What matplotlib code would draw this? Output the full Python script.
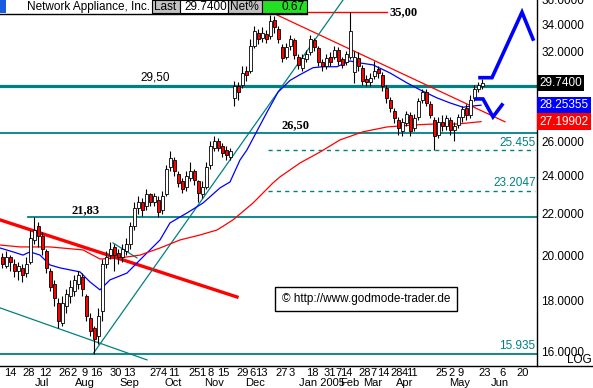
import numpy as np
import matplotlib
matplotlib.use('Agg')
import matplotlib.pyplot as plt
from matplotlib.patches import Rectangle
from matplotlib.lines import Line2D
from matplotlib.ticker import NullLocator

plt.rcParams['font.family'] = ['Liberation Sans', 'DejaVu Sans']
plt.rcParams['font.size'] = 8.5

# candles, one every two trading days (Jun 2004 - May 2005)
opens = [19.9, 19.5, 19.9, 19.6, 19.3, 19.4, 19.2, 19.7, 20.7, 21.4,
         20.9, 20.2, 19.3, 18.7, 17.9, 17.1, 17.8, 18.2, 18.4, 18.7,
         19.0, 18.2, 17.3, 16.9, 16.6, 17.6, 19.6, 20.0, 20.4, 20.1,
         19.9, 20.2, 20.5, 21.4, 22.3, 22.6, 22.4, 23.0, 22.6, 22.7,
         22.2, 23.0, 24.5, 24.9, 24.1, 23.7, 23.4, 23.9, 24.3, 23.7,
         23.0, 23.4, 24.6, 25.6, 26.0, 25.7, 25.5, 25.1, 28.7, 29.5,
         29.6, 30.6, 30.6, 32.4, 33.4, 33.0, 33.3, 33.1, 34.4, 33.7,
         32.3, 31.6, 32.4, 32.8, 31.6, 30.8, 31.4, 31.9, 32.8, 32.2,
         31.2, 30.9, 31.6, 31.6, 32.1, 31.4, 31.2, 31.6, 30.5, 31.5,
         30.8, 30.0, 29.8, 30.2, 30.7, 30.3, 29.4, 28.6, 27.9, 27.3,
         26.6, 27.1, 27.6, 26.8, 27.5, 28.6, 29.1, 28.3, 27.3, 26.4,
         27.2, 26.9, 27.3, 26.7, 27.0, 27.5, 28.1, 27.6, 28.7, 29.3,
         29.5]
closes = [19.6, 19.9, 19.7, 19.3, 19.5, 19.1, 19.6, 20.8, 21.2, 20.9,
          20.3, 19.4, 18.6, 18.1, 17.2, 17.9, 18.3, 18.6, 18.9, 19.1,
          18.5, 17.4, 16.8, 16.5, 17.4, 19.6, 19.9, 20.3, 20.0, 19.9,
          20.3, 20.5, 21.4, 22.3, 22.6, 22.2, 23.0, 22.6, 22.9, 22.1,
          22.9, 24.4, 25.0, 24.3, 23.6, 23.3, 24.0, 24.3, 23.8, 23.1,
          23.4, 24.5, 25.7, 26.0, 25.6, 25.3, 25.2, 25.4, 29.5, 29.1,
          30.4, 30.3, 32.4, 33.5, 32.9, 33.4, 32.9, 34.3, 33.8, 32.9,
          31.5, 32.3, 32.9, 31.7, 31.0, 31.5, 31.8, 32.9, 32.3, 31.2,
          30.9, 31.5, 31.2, 32.1, 31.3, 31.0, 31.8, 33.5, 31.6, 30.9,
          29.9, 29.8, 30.1, 30.6, 30.4, 29.5, 28.7, 28.1, 27.4, 26.8,
          27.2, 27.7, 26.6, 27.4, 28.5, 29.1, 28.4, 27.6, 26.3, 27.2,
          26.9, 27.4, 26.7, 26.9, 27.5, 28.0, 27.6, 28.6, 29.3, 29.6,
          29.74]
highs = [20.1, 20.2, 20.0, 19.8, 19.7, 19.6, 19.9, 21.2, 21.83, 21.6,
         21.1, 20.3, 19.4, 18.9, 18.1, 18.2, 18.5, 18.9, 19.1, 19.3,
         19.2, 18.3, 17.5, 17.0, 17.7, 19.8, 20.2, 20.6, 20.5, 20.3,
         20.5, 20.8, 21.6, 22.6, 22.9, 22.8, 23.3, 23.1, 23.1, 22.9,
         23.2, 24.6, 25.4, 25.1, 24.3, 23.9, 24.3, 24.8, 24.4, 23.8,
         23.7, 24.8, 26.0, 26.3, 26.2, 25.9, 25.7, 25.6, 29.9, 29.8,
         30.9, 30.9, 32.9, 33.9, 33.7, 33.8, 33.6, 34.8, 34.7, 33.9,
         32.5, 32.6, 33.2, 33.0, 31.8, 31.8, 32.1, 33.2, 33.0, 32.4,
         31.4, 31.8, 31.9, 32.4, 32.3, 31.6, 32.0, 35.0, 32.0, 31.9,
         31.0, 30.3, 30.4, 31.3, 30.9, 30.5, 29.6, 28.8, 28.1, 27.5,
         27.4, 27.9, 27.8, 27.7, 28.7, 29.3, 29.3, 28.5, 27.5, 27.5,
         27.6, 27.6, 27.5, 27.2, 27.7, 28.2, 28.3, 28.9, 29.6, 29.8,
         30.0]
lows = [19.4, 19.4, 19.3, 19.0, 18.9, 18.8, 19.0, 19.6, 20.5, 20.4,
        20.0, 19.2, 18.4, 17.8, 16.9, 17.0, 17.5, 17.9, 18.2, 18.5,
        18.2, 17.2, 16.6, 15.93, 16.3, 17.2, 19.4, 19.8, 19.3, 19.6,
        19.7, 20.0, 20.3, 21.2, 22.0, 21.9, 22.2, 22.4, 22.4, 21.85,
        22.0, 22.9, 24.3, 24.0, 23.4, 23.1, 23.2, 23.7, 23.5, 22.6,
        22.8, 23.3, 24.4, 25.4, 25.4, 25.1, 24.9, 24.9, 28.2, 28.6,
        29.4, 29.9, 30.4, 32.2, 32.5, 32.7, 32.6, 32.9, 33.4, 32.6,
        31.2, 31.4, 32.1, 31.4, 30.7, 30.6, 31.2, 31.7, 32.0, 30.9,
        30.6, 30.7, 30.9, 31.4, 31.0, 30.8, 31.0, 31.4, 29.74, 30.6,
        29.6, 29.5, 29.5, 30.0, 30.1, 29.2, 28.4, 27.8, 27.1, 26.4,
        26.3, 26.9, 26.3, 26.6, 27.3, 28.4, 28.2, 27.4, 25.5, 26.2,
        26.6, 26.7, 26.4, 26.0, 26.8, 27.2, 27.3, 27.4, 28.5, 29.1,
        29.3]

# moving averages (bar position, price)
ma_blue_x = [-0.5, 2.75, 5.25, 7.0, 9.5, 12.0, 14.5, 17.0, 19.5, 22.0, 24.5, 27.0,
             31.25, 34.5, 37.0, 39.5, 42.0, 46.25, 50.25, 54.5, 57.0, 59.5, 61.25,
             66.25, 69.0, 72.0, 74.5, 77.75, 80.25, 83.75, 87.0, 89.5, 92.75, 97.0,
             101.25, 104.5, 108.75, 112.0, 115.25, 117.75, 119.75]
ma_blue_y = [20.33, 20.15, 20.0, 20.15, 20.0, 19.55, 19.42, 19.33, 19.24, 18.8, 18.46, 18.89,
             19.19, 19.78, 20.24, 20.71, 21.54, 22.04, 22.55, 23.35, 23.67, 24.9, 25.49,
             27.8, 29.11, 29.91, 30.31, 30.8, 30.87, 30.87, 31.28, 31.14, 31.0, 30.43,
             29.74, 29.27, 28.73, 28.4, 28.12, 28.2, 28.25]
ma_red_x = [-0.5, 4.5, 12.0, 20.25, 24.5, 29.5, 34.5, 39.5, 44.5, 49.5, 53.75, 57.75,
            62.75, 67.75, 69.5, 74.5, 79.5, 84.5, 90.25, 96.25, 102.75, 107.75, 113.75, 119.75]
ma_red_y = [20.47, 20.38, 20.38, 20.24, 19.82, 19.87, 20.0, 20.33, 20.71, 20.95, 21.19, 21.69,
            22.55, 23.62, 23.95, 24.73, 25.36, 26.08, 26.57, 26.87, 26.99, 27.05, 27.05, 27.2]

# trend lines
red_thick_x, red_thick_y = [-0.5, 58.75], [21.69, 18.16]
red_down_x, red_down_y = [68.75, 125.75], [34.78, 27.19]
teal_chan_x, teal_chan_y = [-0.5, 36.25], [17.71, 15.71]
teal_up_x, teal_up_y = [22.75, 85.25], [15.93, 36.0]
teal_small_x, teal_small_y = [27.75, 33.75], [20.57, 19.87]
proj_up_x, proj_up_y = [119.5, 122.5, 130.0, 132.75], [30.1, 30.1, 35.0, 32.9]
proj_dn_x, proj_dn_y = [118.5, 120.25, 122.75, 125.0], [28.66, 28.66, 27.5, 28.27]

# horizontal levels
resist_35 = 35.00
level_2950 = 29.50
level_2650 = 26.50
level_2183 = 21.83
level_15935 = 15.935
dash_25455 = 25.455
dash_232047 = 23.2047

last_price = 29.7400
ma_blue_last = 28.25355
ma_red_last = 27.19902
net_pct = 0.67

price_ticks = [16, 18, 20, 22, 24, 26, 32, 34, 36]

day_labels = ['14', '28', '12', '26', '2', '9', '16', '30', '13', '27', '4', '11', '25', '1',
              '8', '15', '29', '6', '13', '27', '3', '18', '31', '7', '14', '28', '7', '14',
              '28', '4', '11', '25', '2', '9', '23', '6', '20']
day_pos = [2.0, 6.75, 10.75, 15.75, 18.0, 20.75, 23.5, 28.5, 31.75, 38.5, 40.5, 43.0, 48.25,
           50.0, 52.25, 55.25, 60.25, 62.5, 64.75, 70.0, 72.5, 77.5, 82.0, 84.0, 86.0, 90.75,
           92.75, 95.25, 98.75, 100.75, 102.5, 110.0, 112.5, 114.75, 120.75, 125.0, 130.25]
month_labels = ['Jul', 'Aug', 'Sep', 'Oct', 'Nov', 'Dec', 'Jan 2005', 'Feb', 'Mar', 'Apr', 'May', 'Jun']
month_pos = [10.0, 20.75, 31.75, 42.75, 53.0, 63.25, 80.0, 87.0, 92.75, 100.75, 114.5, 124.5]

TEAL = '#008080'
W, H = 593, 388

fig = plt.figure(figsize=(W / 100, H / 100), dpi=100)
ax = fig.add_axes([0, 22 / H, 537 / W, 366 / H])
ax.set_yscale('log')
ax.set_xlim(-0.5, 133.75)
ax.set_ylim(15.49, 36.0)

# levels
ax.axhline(level_2950, color=TEAL, lw=2.3, zorder=1)
ax.axhline(level_2650, color=TEAL, lw=1.3, zorder=1)
ax.plot([6.5, 133.75], [level_2183, level_2183], color=TEAL, lw=1.3, zorder=1)
ax.axhline(level_15935, color=TEAL, lw=1.3, zorder=1)
ax.plot([66.5, 133.25], [dash_25455, dash_25455], color=TEAL, lw=1.0, ls=(0, (3, 3)), zorder=1)
ax.plot([66.5, 133.25], [dash_232047, dash_232047], color=TEAL, lw=1.0, ls=(0, (3, 3)), zorder=1)
ax.plot([67.0, 96.25], [resist_35, resist_35], color='red', lw=1.0, zorder=1)

# trend lines
ax.plot(red_thick_x, red_thick_y, color='red', lw=2.4, zorder=2)
ax.plot(red_down_x, red_down_y, color='red', lw=0.9, zorder=2)
ax.plot(teal_chan_x, teal_chan_y, color=TEAL, lw=0.9, zorder=2)
ax.plot(teal_up_x, teal_up_y, color=TEAL, lw=0.9, zorder=2)
ax.plot(teal_small_x, teal_small_y, color=TEAL, lw=0.9, zorder=2)

# moving averages
ax.plot(ma_blue_x, ma_blue_y, color='blue', lw=0.9, zorder=2)
ax.plot(ma_red_x, ma_red_y, color='red', lw=0.9, zorder=2)

# candles
o = np.array(opens)
c = np.array(closes)
x = np.arange(len(c))
up = c >= o
ax.vlines(x, lows, highs, color='black', lw=0.8, zorder=3)
ax.bar(x, np.abs(c - o), bottom=np.minimum(o, c), width=0.75,
       color=np.where(up, 'white', 'red'), edgecolor='black', linewidth=0.6, zorder=4)

# projection arrows
ax.plot(proj_up_x, proj_up_y, color='blue', lw=2.6, zorder=5, solid_joinstyle='miter')
ax.plot(proj_dn_x, proj_dn_y, color='blue', lw=2.6, zorder=5, solid_joinstyle='miter')

# level labels
ax.annotate('35,00', (97.0, resist_35), va='center', ha='left',
            fontfamily='Liberation Serif', fontweight='bold', fontsize=9)
ax.annotate('29,50', (34.5, level_2950), xytext=(0, 2), textcoords='offset points',
            va='bottom', ha='left')
ax.annotate('26,50', (70.0, level_2650), xytext=(0, 1), textcoords='offset points', va='bottom',
            ha='left', fontfamily='Liberation Serif', fontweight='bold', fontsize=9)
ax.annotate('21,83', (17.5, level_2183), xytext=(0, 1), textcoords='offset points', va='bottom',
            ha='left', fontfamily='Liberation Serif', fontweight='bold', fontsize=9)
for val, txt in [(dash_25455, '25.455'), (dash_232047, '23.2047'), (level_15935, '15.935')]:
    ax.annotate(txt, (133.4, val), xytext=(0, 1), textcoords='offset points',
                va='bottom', ha='right', color=TEAL)

# axes look
for s in ['left', 'top', 'bottom']:
    ax.spines[s].set_visible(False)
ax.spines['right'].set_linewidth(1.0)
ax.yaxis.tick_right()
ax.yaxis.set_minor_locator(NullLocator())
ax.set_yticks(price_ticks)
ax.set_yticklabels([f'{v:.4f}' for v in price_ticks])
ax.tick_params(axis='y', length=0, pad=3)
ax.set_xticks([])

xt = ax.get_xaxis_transform()
for p, lab in zip(day_pos, day_labels):
    ax.text(p, -0.019, lab, transform=xt, ha='center', va='center', clip_on=False, fontsize=8)
for p, lab in zip(month_pos, month_labels):
    ax.text(p, -0.046, lab, transform=xt, ha='center', va='center', clip_on=False, fontsize=8)

# value boxes on the price scale
yt = ax.get_yaxis_transform()
for val, txt, bg in [(last_price, f'{last_price:.4f}', 'black'),
                     (ma_blue_last, f'{ma_blue_last:.5f}', 'blue'),
                     (ma_red_last, f'{ma_red_last:.5f}', 'red')]:
    ax.text(1.004, val, txt, transform=yt, ha='left', va='center', color='white',
            bbox=dict(boxstyle='square,pad=0.2', fc=bg, ec='none'), clip_on=False)


def fx(px):
    return px / W


def fy(py):
    return 1 - py / H


def box(x0, x1, y0, y1, fc, ec='black'):
    fig.add_artist(Rectangle((fx(x0), fy(y1)), (x1 - x0) / W, (y1 - y0) / H,
                             transform=fig.transFigure, fc=fc, ec=ec, lw=0.8, zorder=10))


# header strip
box(0, 307, 0, 14, 'white', 'none')
box(0, 6, 0, 13, '#1a5ce0', 'none')
box(152, 180, 0, 13, '#c0c0c0')
box(180, 228, 0, 13, 'white')
box(228, 262, 0, 13, '#c0c0c0')
box(262, 307, 0, 13, '#22e022')
fig.add_artist(Line2D([0, fx(307)], [fy(13.5), fy(13.5)], transform=fig.transFigure,
                      color='black', lw=1.0, zorder=11))
fig.text(fx(150), fy(7), 'Network Appliance, Inc.', ha='right', va='center', zorder=12)
fig.text(fx(154), fy(7), 'Last', ha='left', va='center', zorder=12)
fig.text(fx(227), fy(7), f'{last_price:.4f}', ha='right', va='center', zorder=12)
fig.text(fx(230), fy(7), 'Net%', ha='left', va='center', zorder=12)
fig.text(fx(305), fy(7), f'{net_pct:.2f}', ha='right', va='center', zorder=12)

# copyright box
fig.text(fx(366), fy(299), '\u00a9 http://www.godmode-trader.de', ha='center', va='center',
         zorder=12, bbox=dict(boxstyle='square,pad=0.55', fc='white', ec='black', lw=1.0))

fig.text(fx(579), fy(360), 'LOG', ha='center', va='center')
fig.add_artist(Line2D([0, 1], [fy(366), fy(366)], transform=fig.transFigure,
                      color='black', lw=1.0))

fig.savefig('out.png', dpi=100)
